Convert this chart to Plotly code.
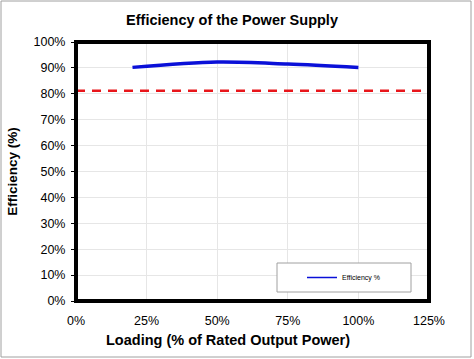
import plotly.graph_objects as go

loading = [20, 50, 75, 100]
efficiency = [90.2, 92.25, 91.5, 90.2]
limit_x = [0, 125]
limit_y = [81.2, 81.2]
x_ticks = [0, 25, 50, 75, 100, 125]
x_tick_labels = ["0%", "25%", "50%", "75%", "100%", "125%"]
y_ticks = list(range(0, 101, 10))
y_tick_labels = [f"{v}%" for v in y_ticks]

W, H = 474, 359
L, R, T, B = 76, 45, 42, 58
pw, ph = W - L - R, H - T - B


def px_x(p):
    return (p - L) / pw


def px_y(p):
    return (H - B - p) / ph


fig = go.Figure()
fig.add_trace(go.Scatter(x=limit_x, y=limit_y, mode="lines", showlegend=False,
                         line=dict(color="#e8161b", width=2.5, dash="9px,7px")))
fig.add_trace(go.Scatter(x=loading, y=efficiency, mode="lines", name="Efficiency %",
                         showlegend=False,
                         line=dict(color="#0a10d8", width=3.5, shape="spline", smoothing=0.9)))
# legend entry (thin sample line like the reference)
fig.add_trace(go.Scatter(x=[None], y=[None], mode="lines", name="Efficiency %",
                         line=dict(color="#0a10d8", width=1.5)))

font = "Liberation Sans, Arial, sans-serif"
fig.update_layout(
    width=W, height=H,
    margin=dict(l=L, r=R, t=T, b=B, autoexpand=False),
    paper_bgcolor="white", plot_bgcolor="white",
    font=dict(family=font, color="black", size=12.5),
    title=dict(text="<b>Efficiency of the Power Supply</b>", x=232 / W, xanchor="center",
               y=1 - 20 / H, yanchor="middle", font=dict(size=14.5)),
    xaxis=dict(range=[0, 125], tickvals=x_ticks, ticktext=x_tick_labels,
               showgrid=True, gridcolor="#e6e6e6", gridwidth=1, zeroline=False,
               showline=False, ticks="", automargin=False, ticklabelstandoff=10),
    yaxis=dict(range=[0, 100], tickvals=y_ticks, ticktext=y_tick_labels,
               showgrid=True, gridcolor="#e6e6e6", gridwidth=1, zeroline=False,
               showline=False, ticks="outside", ticklen=4, tickcolor="black", automargin=False,
               ticklabelstandoff=3,
               title=dict(text="<b>Efficiency (%)</b>", font=dict(size=13.5), standoff=12)),
    legend=dict(x=px_x(302), y=px_y(277.5), xanchor="left", yanchor="middle",
                bgcolor="rgba(0,0,0,0)", borderwidth=0,
                font=dict(size=7)),
    annotations=[
        dict(text="<b>Loading (% of Rated Output Power)</b>", xref="paper", yref="paper",
             x=px_x(227.5), y=px_y(340), xanchor="center", yanchor="middle",
             showarrow=False, font=dict(size=14.5)),
    ],
    shapes=[
        dict(type="rect", xref="paper", yref="paper", x0=0, x1=1, y0=0, y1=1,
             line=dict(color="black", width=4), layer="above"),
        dict(type="rect", xref="paper", yref="paper",
             x0=px_x(277), x1=px_x(411), y0=px_y(292), y1=px_y(263),
             line=dict(color="#a0a0a0", width=1), fillcolor="white", layer="above"),
        dict(type="rect", xref="paper", yref="paper",
             x0=px_x(1), x1=px_x(471), y0=px_y(357), y1=px_y(1),
             line=dict(color="#a0a0a0", width=1), layer="below"),
    ],
)

fig.write_html("out.html", config={"displayModeBar": False},
               post_script="document.body.style.margin='0';document.body.style.overflow='hidden';")
